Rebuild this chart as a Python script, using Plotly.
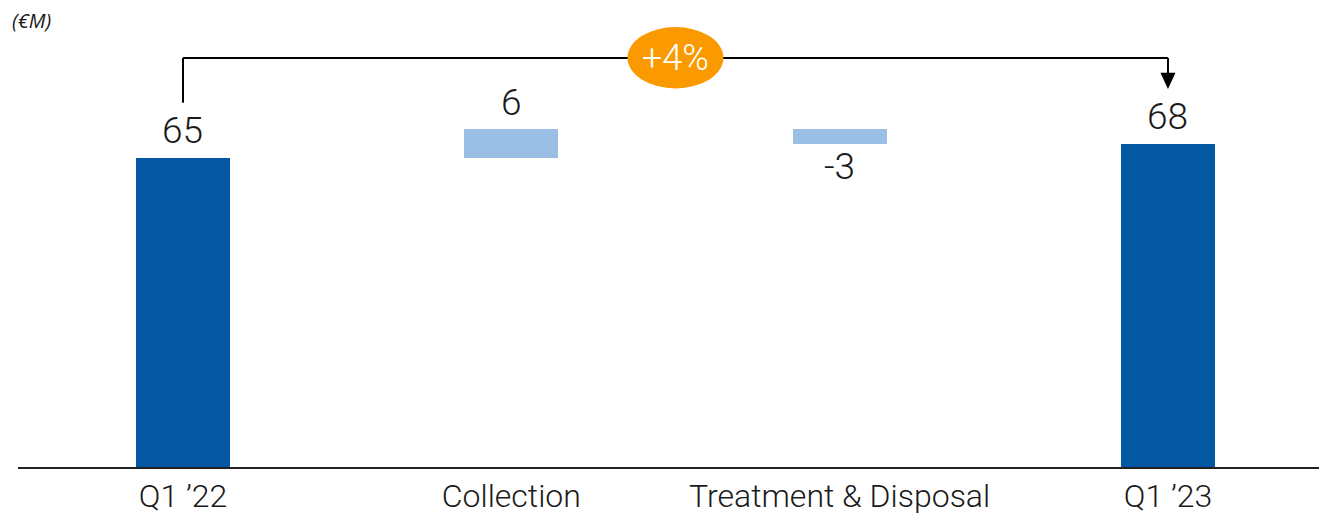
import plotly.graph_objects as go

# Revenue bridge, € millions
categories = ["Q1 ’22", "Collection", "Treatment & Disposal", "Q1 ’23"]
values = [65, 6, -3, 68]
measures = ["absolute", "relative", "relative", "total"]
value_labels = ["65", "6", "-3", "68"]
growth_label = "+4%"
unit_label = "(€M)"

DARK_BLUE = "#0357A3"
LIGHT_BLUE = "#9BBFE4"
ORANGE = "#FA9A00"
TEXT = "#1a1a1a"
FONT = "Roboto"

# bar bases/tops computed from the running total
bases, heights, colors = [], [], []
running = 0
for v, m in zip(values, measures):
    if m == "relative":
        bases.append(running)
        heights.append(v)
        running += v
        colors.append(LIGHT_BLUE)
    else:
        bases.append(0)
        heights.append(v)
        running = v
        colors.append(DARK_BLUE)

fig = go.Figure()
fig.add_trace(go.Bar(
    x=list(range(len(categories))),
    y=heights,
    base=bases,
    marker=dict(color=colors, line=dict(width=0)),
    width=0.286,
    hoverinfo="skip",
))

annotations = []
for i, (b, h, lab) in enumerate(zip(bases, heights, value_labels)):
    if h >= 0:
        y, shift = b + h, 27
    else:
        y, shift = b + h, -23
    annotations.append(dict(
        x=i, y=y, xref="x", yref="y", text=lab, showarrow=False,
        yshift=shift, yanchor="middle",
        font=dict(family=FONT, size=37, color=TEXT, weight=300),
    ))

# bracket from the first to the last column
first_top = bases[0] + heights[0]
last_top = bases[-1] + heights[-1]
bracket_y = 86
left_end = first_top + 11.6
arrow_tip = last_top + 11.5
line_style = dict(color="#000000", width=2)
shapes = [
    dict(type="line", xref="x", yref="y", x0=0, x1=0, y0=left_end, y1=bracket_y, line=line_style),
    dict(type="line", xref="x", yref="y", x0=0, x1=3, y0=bracket_y, y1=bracket_y, line=line_style),
    dict(type="line", xref="x", yref="y", x0=3, x1=3, y0=bracket_y, y1=arrow_tip + 3, line=line_style),
    dict(type="path", xref="x", yref="y",
         path=f"M {3 - 0.023} {arrow_tip + 3.4} L {3 + 0.023} {arrow_tip + 3.4} L 3 {arrow_tip} Z",
         fillcolor="#000000", line=dict(width=0)),
    dict(type="circle", xref="x", yref="y", x0=1.5 - 0.146, x1=1.5 + 0.146,
         y0=bracket_y - 6.4, y1=bracket_y + 6.5, fillcolor=ORANGE, line=dict(width=0)),
]
annotations.append(dict(
    x=1.5, y=bracket_y, xref="x", yref="y", text=growth_label, showarrow=False,
    yanchor="middle", font=dict(family=FONT, size=36, color="white", weight=300),
))
annotations.append(dict(
    x=-0.0062, y=0.957, xref="paper", yref="paper", text=f"<i>{unit_label}</i>",
    showarrow=False, xanchor="left", yanchor="middle",
    font=dict(family="Open Sans", size=20, color=TEXT),
))

fig.update_layout(
    width=1319, height=515,
    margin=dict(l=18, r=0, t=0, b=48),
    paper_bgcolor="white", plot_bgcolor="white",
    showlegend=False,
    bargap=0,
    shapes=shapes,
    annotations=annotations,
    xaxis=dict(
        tickmode="array", tickvals=list(range(len(categories))), ticktext=categories,
        range=[-0.5025, 3.46], showgrid=False, zeroline=False,
        showline=True, linecolor="#222222", linewidth=2,
        ticks="", tickfont=dict(family=FONT, size=32, color=TEXT, weight=300),
        fixedrange=True,
    ),
    yaxis=dict(range=[0, 98.2], visible=False, fixedrange=True),
)

fig.write_html("out.html")
